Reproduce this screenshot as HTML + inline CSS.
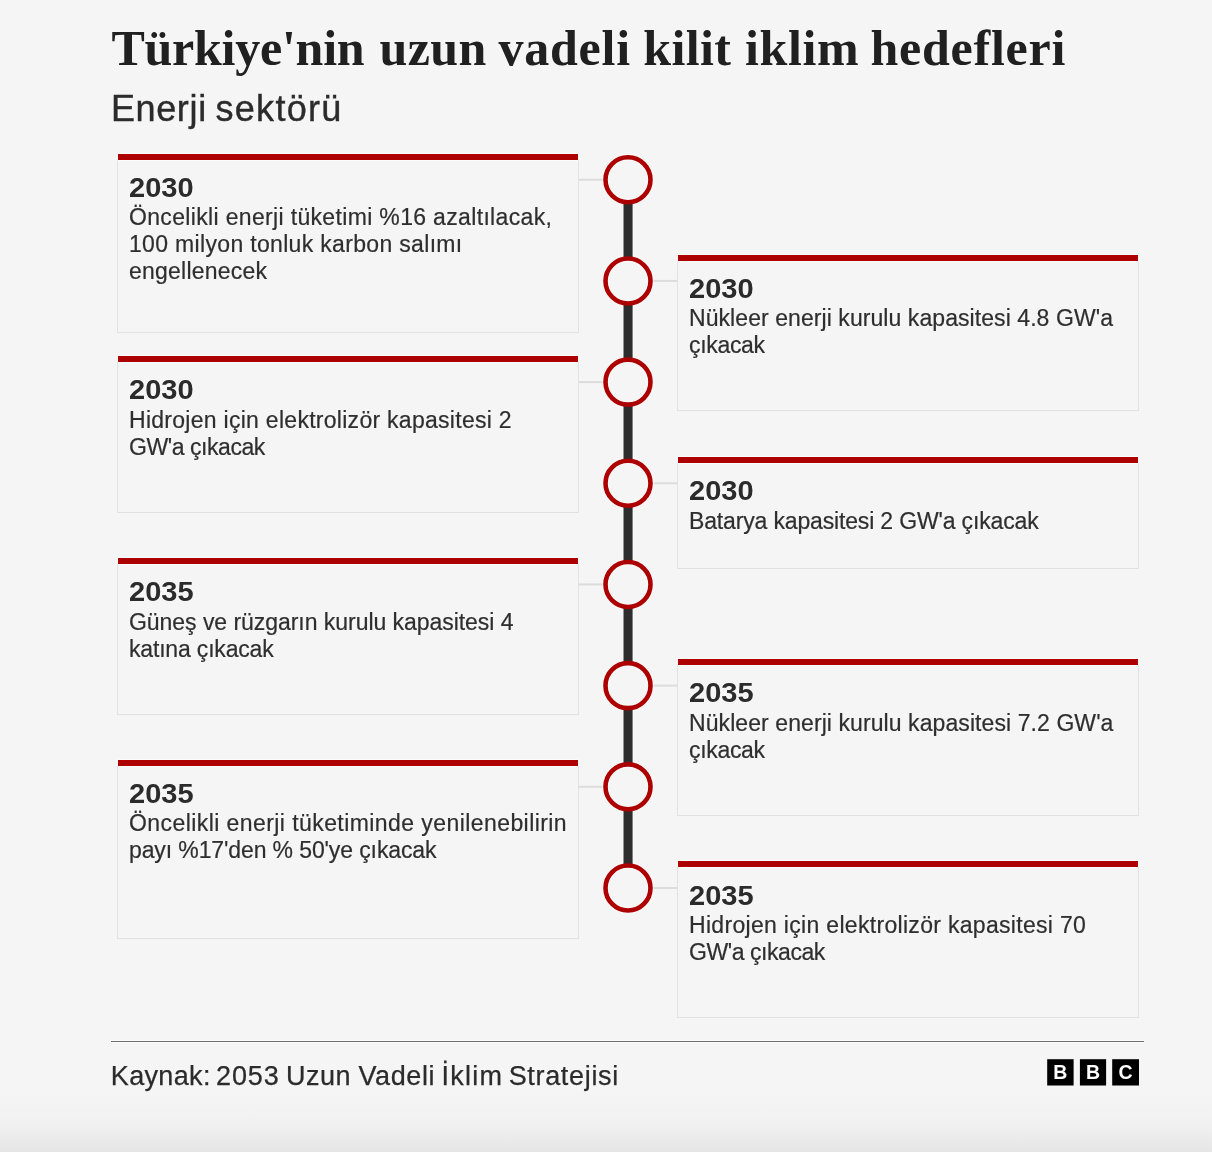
<!DOCTYPE html>
<html lang="tr">
<head>
<meta charset="utf-8">
<title>Türkiye'nin uzun vadeli kilit iklim hedefleri</title>
<style>
html,body{margin:0;padding:0;}
body{width:1212px;height:1152px;position:relative;overflow:hidden;background:#f5f5f5;font-family:"Liberation Sans",sans-serif;color:#2b2b2b;}
#wrap{position:absolute;left:0;top:0;width:1212px;height:1152px;will-change:transform;}
.fade{position:absolute;left:0;top:1090px;width:1212px;height:62px;background:linear-gradient(to bottom,#f5f5f5 0px,#f4f4f4 12px,#f2f2f2 27px,#f0f0f0 36px,#ededed 44px,#eaeaea 50px,#e5e5e5 62px);}
h1{position:absolute;left:0;top:20px;width:1212px;height:56px;margin:0;font-family:"Liberation Serif",serif;font-weight:bold;font-size:50px;line-height:56px;color:#202020;white-space:nowrap;}
h1 span{position:absolute;top:0;}
h2{position:absolute;left:0;top:87px;width:1212px;height:44px;margin:0;font-weight:normal;font-size:36px;line-height:44px;color:#2b2b2b;white-space:nowrap;-webkit-text-stroke:0.4px #2b2b2b;}
h2 span{position:absolute;top:0;}
.box{position:absolute;width:460px;box-sizing:content-box;border:1px solid #e2e2e2;border-top:0;}
.box::before{content:"";position:absolute;left:0;top:-6px;width:460px;height:6px;background:#ad0000;box-shadow:0 1px 0 #fbfbfb,0 -1px 0 #fbfbfb;}
.box.l{left:117px;}
.box.r{left:677px;}
.yr{position:absolute;left:11px;top:12.5px;font-weight:bold;font-size:27px;line-height:30px;transform:scaleX(1.075);transform-origin:0 0;color:#2b2b2b;white-space:nowrap;}
.tx{position:absolute;left:11px;top:44px;font-size:23px;line-height:27px;color:#2e2e2e;white-space:nowrap;-webkit-text-stroke:0.2px #2e2e2e;}
.tx span{display:block;}
.rule{position:absolute;left:111px;top:1041px;width:1033px;height:1px;background:#6e6e6e;box-shadow:0 1px 0 #fcfcfc,0 -1px 0 #fcfcfc;}
.src{position:absolute;left:0;top:1059px;width:1212px;height:34px;font-size:27px;line-height:34px;color:#2b2b2b;white-space:nowrap;-webkit-text-stroke:0.25px #2b2b2b;}
.src span{position:absolute;top:0;}
</style>
</head>
<body>
<div class="fade"></div>
<div id="wrap">
<h1><span style="left:111.4px;letter-spacing:-0.24px">Türkiye'nin</span> <span style="left:379.5px;letter-spacing:0.4px">uzun</span> <span style="left:498.6px;letter-spacing:0.74px">vadeli</span> <span style="left:643.2px;letter-spacing:0.4px">kilit</span> <span style="left:745.1px;letter-spacing:0.6px">iklim</span> <span style="left:870.5px;letter-spacing:0.762px">hedefleri</span></h1>
<h2><span style="left:110.9px;letter-spacing:0.64px">Enerji</span> <span style="left:215.5px;letter-spacing:1.3px">sektörü</span></h2>

<div class="box l" style="top:160px;height:172px;"><div class="yr">2030</div><div class="tx"><span style="letter-spacing:0.337px">Öncelikli enerji tüketimi %16 azaltılacak,</span><span style="letter-spacing:0.327px">100 milyon tonluk karbon salımı</span><span style="letter-spacing:0.227px">engellenecek</span></div></div>
<div class="box l" style="top:362px;height:150px;"><div class="yr">2030</div><div class="tx" style="top:45px"><span style="letter-spacing:0.279px">Hidrojen için elektrolizör kapasitesi 2</span><span style="letter-spacing:-0.44px">GW'a çıkacak</span></div></div>
<div class="box l" style="top:564px;height:150px;"><div class="yr">2035</div><div class="tx" style="top:45px"><span style="letter-spacing:-0.044px">Güneş ve rüzgarın kurulu kapasitesi 4</span><span style="letter-spacing:-0.177px">katına çıkacak</span></div></div>
<div class="box l" style="top:766px;height:172px;"><div class="yr">2035</div><div class="tx"><span style="letter-spacing:0.426px">Öncelikli enerji tüketiminde yenilenebilirin</span><span style="letter-spacing:-0.111px">payı %17'den % 50'ye çıkacak</span></div></div>

<div class="box r" style="top:261px;height:149px;"><div class="yr">2030</div><div class="tx"><span style="letter-spacing:0.07px">Nükleer enerji kurulu kapasitesi 4.8 GW'a</span><span style="letter-spacing:-0.317px">çıkacak</span></div></div>
<div class="box r" style="top:463px;height:105px;"><div class="yr">2030</div><div class="tx" style="top:45px"><span style="letter-spacing:-0.156px">Batarya kapasitesi 2 GW'a çıkacak</span></div></div>
<div class="box r" style="top:665px;height:150px;"><div class="yr">2035</div><div class="tx" style="top:45px"><span style="letter-spacing:0.082px">Nükleer enerji kurulu kapasitesi 7.2 GW'a</span><span style="letter-spacing:-0.317px">çıkacak</span></div></div>
<div class="box r" style="top:867px;height:150px;"><div class="yr" style="top:13.5px">2035</div><div class="tx" style="top:45px"><span style="letter-spacing:0.31px">Hidrojen için elektrolizör kapasitesi 70</span><span style="letter-spacing:-0.44px">GW'a çıkacak</span></div></div>



<svg style="position:absolute;left:0;top:0" width="1212" height="1152" viewBox="0 0 1212 1152">
<rect x="579" y="178.75" width="26" height="2" fill="#dcdcdc"/>
<rect x="651" y="279.93" width="26" height="2" fill="#dcdcdc"/>
<rect x="579" y="381.11" width="26" height="2" fill="#dcdcdc"/>
<rect x="651" y="482.29" width="26" height="2" fill="#dcdcdc"/>
<rect x="579" y="583.47" width="26" height="2" fill="#dcdcdc"/>
<rect x="651" y="684.65" width="26" height="2" fill="#dcdcdc"/>
<rect x="579" y="785.83" width="26" height="2" fill="#dcdcdc"/>
<rect x="651" y="887.01" width="26" height="2" fill="#dcdcdc"/>
<circle cx="628" cy="179.75" r="22.5" fill="none" stroke="#fbfbfb" stroke-width="6.4"/>
<circle cx="628" cy="280.93" r="22.5" fill="none" stroke="#fbfbfb" stroke-width="6.4"/>
<circle cx="628" cy="382.11" r="22.5" fill="none" stroke="#fbfbfb" stroke-width="6.4"/>
<circle cx="628" cy="483.29" r="22.5" fill="none" stroke="#fbfbfb" stroke-width="6.4"/>
<circle cx="628" cy="584.47" r="22.5" fill="none" stroke="#fbfbfb" stroke-width="6.4"/>
<circle cx="628" cy="685.65" r="22.5" fill="none" stroke="#fbfbfb" stroke-width="6.4"/>
<circle cx="628" cy="786.83" r="22.5" fill="none" stroke="#fbfbfb" stroke-width="6.4"/>
<circle cx="628" cy="888.01" r="22.5" fill="none" stroke="#fbfbfb" stroke-width="6.4"/>
<rect x="622.6" y="179.75" width="10.9" height="708.26" fill="#fbfbfb"/>
<rect x="623.5" y="179.75" width="9.1" height="708.26" fill="#2d2d2d"/>
<circle cx="628" cy="179.75" r="21" fill="#f5f5f5" stroke="#fbfbfb" stroke-width="0" /><circle cx="628" cy="179.75" r="19.8" fill="none" stroke="#fbfbfb" stroke-width="1"/><circle cx="628" cy="179.75" r="22.5" fill="none" stroke="#ad0000" stroke-width="4.6"/>
<circle cx="628" cy="280.93" r="21" fill="#f5f5f5" stroke="#fbfbfb" stroke-width="0" /><circle cx="628" cy="280.93" r="19.8" fill="none" stroke="#fbfbfb" stroke-width="1"/><circle cx="628" cy="280.93" r="22.5" fill="none" stroke="#ad0000" stroke-width="4.6"/>
<circle cx="628" cy="382.11" r="21" fill="#f5f5f5" stroke="#fbfbfb" stroke-width="0" /><circle cx="628" cy="382.11" r="19.8" fill="none" stroke="#fbfbfb" stroke-width="1"/><circle cx="628" cy="382.11" r="22.5" fill="none" stroke="#ad0000" stroke-width="4.6"/>
<circle cx="628" cy="483.29" r="21" fill="#f5f5f5" stroke="#fbfbfb" stroke-width="0" /><circle cx="628" cy="483.29" r="19.8" fill="none" stroke="#fbfbfb" stroke-width="1"/><circle cx="628" cy="483.29" r="22.5" fill="none" stroke="#ad0000" stroke-width="4.6"/>
<circle cx="628" cy="584.47" r="21" fill="#f5f5f5" stroke="#fbfbfb" stroke-width="0" /><circle cx="628" cy="584.47" r="19.8" fill="none" stroke="#fbfbfb" stroke-width="1"/><circle cx="628" cy="584.47" r="22.5" fill="none" stroke="#ad0000" stroke-width="4.6"/>
<circle cx="628" cy="685.65" r="21" fill="#f5f5f5" stroke="#fbfbfb" stroke-width="0" /><circle cx="628" cy="685.65" r="19.8" fill="none" stroke="#fbfbfb" stroke-width="1"/><circle cx="628" cy="685.65" r="22.5" fill="none" stroke="#ad0000" stroke-width="4.6"/>
<circle cx="628" cy="786.83" r="21" fill="#f5f5f5" stroke="#fbfbfb" stroke-width="0" /><circle cx="628" cy="786.83" r="19.8" fill="none" stroke="#fbfbfb" stroke-width="1"/><circle cx="628" cy="786.83" r="22.5" fill="none" stroke="#ad0000" stroke-width="4.6"/>
<circle cx="628" cy="888.01" r="21" fill="#f5f5f5" stroke="#fbfbfb" stroke-width="0" /><circle cx="628" cy="888.01" r="19.8" fill="none" stroke="#fbfbfb" stroke-width="1"/><circle cx="628" cy="888.01" r="22.5" fill="none" stroke="#ad0000" stroke-width="4.6"/>
</svg>

<div class="rule"></div>
<div class="src"><span style="left:110.8px;letter-spacing:0.35px">Kaynak:</span> <span style="left:216.1px;letter-spacing:0.85px">2053</span> <span style="left:286.1px;letter-spacing:0.433px">Uzun</span> <span style="left:358.5px;letter-spacing:0.6px">Vadeli</span> <span style="left:441.6px;letter-spacing:1.2px">İklim</span> <span style="left:508.7px;letter-spacing:0.667px">Stratejisi</span></div>
<svg style="position:absolute;left:1040px;top:1050px" width="110" height="45" viewBox="1040 1050 110 45">
<rect x="1047.2" y="1059.2" width="26.4" height="26.3" fill="#000"/>
<rect x="1079.9" y="1059.2" width="26.2" height="26.3" fill="#000"/>
<rect x="1112.2" y="1059.2" width="26.8" height="26.3" fill="#000"/>
<g font-family="Liberation Sans, sans-serif" font-weight="bold" font-size="19.5" fill="#fff" text-anchor="middle">
<text x="1060.4" y="1079.4">B</text><text x="1093" y="1079.4">B</text><text x="1125.6" y="1079.4">C</text>
</g>
</svg>
</div>
</body>
</html>
